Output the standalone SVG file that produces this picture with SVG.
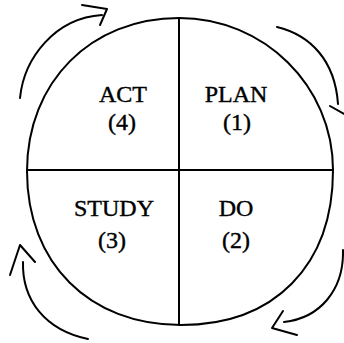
<svg xmlns="http://www.w3.org/2000/svg" width="344" height="343" viewBox="0 0 344 343">
<style>
.ln{fill:none;stroke:#000;stroke-width:2;stroke-linecap:round;stroke-linejoin:round}
.t{font-family:"Liberation Serif","Times New Roman",serif;font-size:24px;fill:#000;stroke:#000;stroke-width:0.4;text-anchor:middle}
</style>
<rect width="344" height="343" fill="#fff"/>
<g id="cycle">
<path class="ln" d="M179,18 C264,18 333,86 333,170 C333,266 274,325 181,325 C89,325 27,263 27,171 C27,82 91,18 179,18 Z"/>
<line class="ln" x1="179" y1="18" x2="179" y2="325"/>
<line class="ln" x1="27" y1="170" x2="333" y2="170"/>
</g>
<g id="plan"><text class="t" x="236" y="102">PLAN</text><text class="t" x="237" y="130">(1)</text></g>
<g id="do"><text class="t" x="236" y="216">DO</text><text class="t" x="236" y="248">(2)</text></g>
<g id="study"><text class="t" x="114" y="216">STUDY</text><text class="t" x="112" y="248">(3)</text></g>
<g id="act"><text class="t" x="123" y="102">ACT</text><text class="t" x="122" y="130">(4)</text></g>
<g id="connectors">
<path class="ln" d="M277,27 C310,35 335,60 338,104"/>
<path class="ln" d="M330,106 L344,114"/>
<path class="ln" d="M343,250 C344,290 320,318 284,322"/>
<path class="ln" d="M283,311 L272,328 L297,335"/>
<path class="ln" d="M88,339 C45,330 22,300 23,262"/>
<path class="ln" d="M10,275 L20,245 L35,262"/>
<path class="ln" d="M20,98 C24,58 55,18 102,15"/>
<path class="ln" d="M82,5 L107,9 L100,25"/>
</g>
</svg>
